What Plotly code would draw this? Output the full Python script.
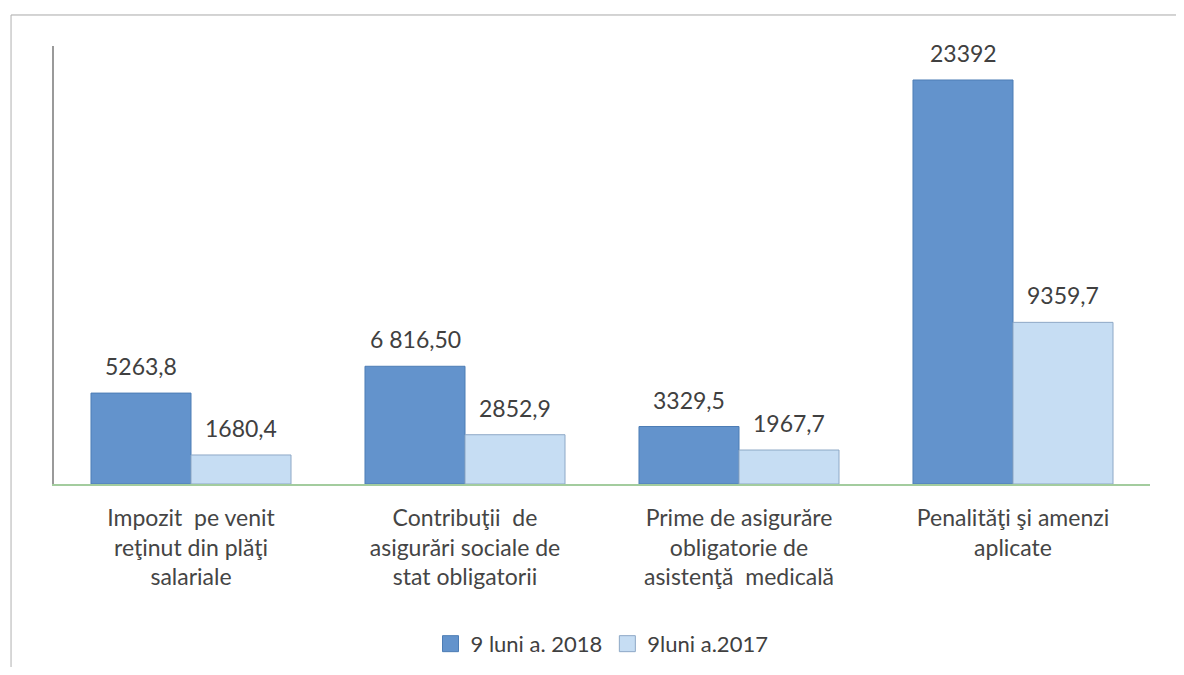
import plotly.graph_objects as go
import numpy as np

categories = [
    "Impozit \u00a0pe venit<br>reţinut din plăţi<br>salariale",
    "Contribuţii \u00a0de<br>asigurări sociale de<br>stat obligatorii",
    "Prime de asigurăre<br>obligatorie de<br>asistenţă \u00a0medicală",
    "Penalităţi şi amenzi<br>aplicate",
]
series_names = ["9 luni a. 2018", "9luni a.2017"]
values_2018 = [5263.8, 6816.5, 3329.5, 23392]
values_2017 = [1680.4, 2852.9, 1967.7, 9359.7]
labels_2018 = ["5263,8", "6 816,50", "3329,5", "23392"]
labels_2017 = ["1680,4", "2852,9", "1967,7", "9359,7"]
colors = ["#6393cc", "#c6ddf3"]
edge_colors = ["#4d7db5", "#8ea8c6"]

FONT = "Lato"
x = np.arange(len(categories))
bw = 0.365

fig = go.Figure()
fig.add_trace(go.Bar(
    x=x, y=values_2018, name=series_names[0], width=bw, offset=-bw,
    marker=dict(color=colors[0], line=dict(color=edge_colors[0], width=1)),
    hoverinfo="skip", showlegend=False,
))
fig.add_trace(go.Bar(
    x=x, y=values_2017, name=series_names[1], width=bw, offset=0,
    marker=dict(color=colors[1], line=dict(color=edge_colors[1], width=1)),
    hoverinfo="skip", showlegend=False,
))
# legend entries with larger square swatches
for name, c, ec in zip(series_names, colors, edge_colors):
    fig.add_trace(go.Scatter(
        x=[None], y=[None], mode="markers", name=name,
        marker=dict(symbol="square", size=16, color=c, line=dict(color=ec, width=1)),
        hoverinfo="skip",
    ))

for xi, v, t in zip(x, values_2018, labels_2018):
    fig.add_annotation(x=xi - bw / 2, y=v, text=t, showarrow=False,
                       yanchor="bottom", yshift=11,
                       font=dict(family=FONT, size=23, color="#404040"))
for xi, v, t in zip(x, values_2017, labels_2017):
    fig.add_annotation(x=xi + bw / 2, y=v, text=t, showarrow=False,
                       yanchor="bottom", yshift=11,
                       font=dict(family=FONT, size=23, color="#404040"))

# outer frame (top and left edges of the scanned chart border)
fig.add_shape(type="line", xref="paper", yref="paper",
              x0=-0.0392, x1=1.2, y0=1.0708, y1=1.0708,
              line=dict(color="#a8a8a8", width=1))
fig.add_shape(type="line", xref="paper", yref="paper",
              x0=-0.0392, x1=-0.0392, y0=1.0708, y1=-0.5,
              line=dict(color="#b0b0b0", width=1))

fig.update_layout(
    width=1168, height=659,
    margin=dict(l=46, r=26, t=38, b=183, autoexpand=False),
    paper_bgcolor="white", plot_bgcolor="white",
    barmode="group",
    showlegend=True,
    legend=dict(orientation="h", x=0.5, xanchor="center", y=-0.365, yanchor="middle",
                font=dict(family=FONT, size=22, color="#404040"),
                itemsizing="trace", traceorder="normal", itemwidth=30),
    font=dict(family=FONT, color="#404040"),
)
fig.update_xaxes(
    range=[-0.5, 3.5], tickmode="array", tickvals=x, ticktext=categories,
    showgrid=False, zeroline=False, showline=True, linecolor="#a3cc9e", linewidth=2,
    ticks="", ticklabelstandoff=12, tickfont=dict(family=FONT, size=23, color="#454545"),
    automargin=False,
)
fig.update_yaxes(
    range=[0, 25360], showgrid=False, zeroline=False, showticklabels=False,
    showline=True, linecolor="#9a9a9a", linewidth=1.5, ticks="", automargin=False,
)

fig.write_html("out.html")
